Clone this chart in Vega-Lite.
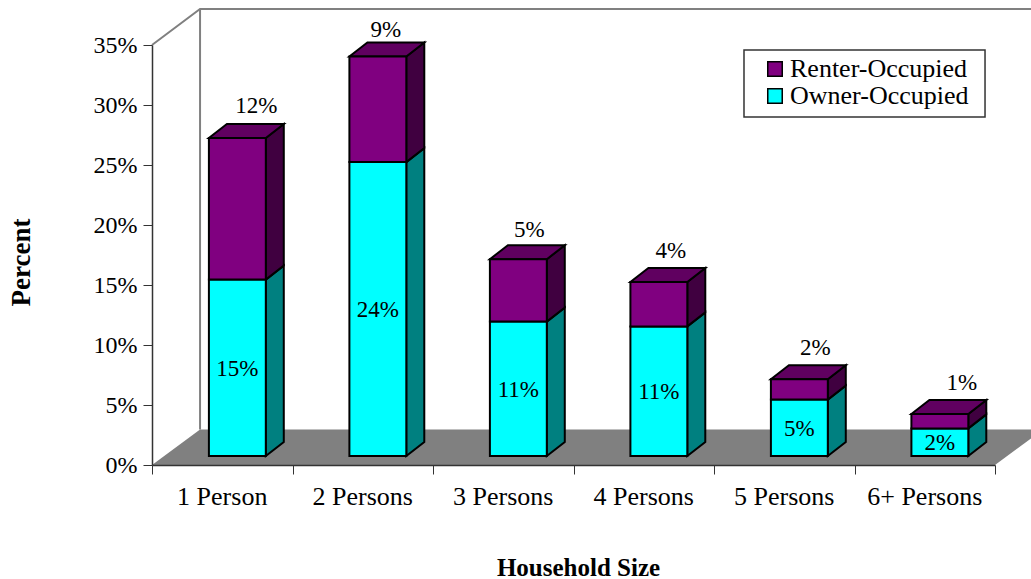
{
"$schema":"https://vega.github.io/schema/vega-lite/v6.json",
"autosize":"none",
"padding":{"left":152,"top":45,"right":36,"bottom":114},
"width":843,"height":420,
"background":"white",
"config":{"view":{"stroke":null},"font":"Liberation Serif"},
"encoding":{
 "x":{"field":"X","type":"quantitative","scale":{"domain":[0,6],"nice":false,"zero":false},
  "axis":{"values":[0,1,2,3,4,5,6],"labels":false,"grid":false,"tickSize":9,"tickColor":"#333333","domainColor":"#333333","domainWidth":1.5,"tickWidth":1,"zindex":1,
   "title":"Household Size","titleFont":"Liberation Serif","titleFontSize":25,"titleFontWeight":"bold","titleColor":"black","titleX":426,"titleY":110,"titleBaseline":"alphabetic"}},
 "y":{"field":"Y","type":"quantitative","scale":{"domain":[0,0.35],"nice":false,"zero":false},
  "axis":{"values":[0,0.05,0.1,0.15,0.2,0.25,0.3,0.35],"format":".0%","grid":false,"tickSize":9,"tickColor":"#333333","domainColor":"#333333","domainWidth":1.5,"tickWidth":1,"labelPadding":6,"labelFont":"Liberation Serif","labelFontSize":24,"labelColor":"black","zindex":1,
   "title":"Percent","titleFont":"Liberation Serif","titleFontSize":27,"titleFontWeight":"bold","titleColor":"black","titleAngle":-90,"titleX":-123,"titleY":217,"titleBaseline":"alphabetic"}}
},
"layer":[
 {"data":{"values":[{"X":0,"X2":6,"Y":0},{"X":0.342,"X2":6.342,"Y":0.0296}]},
  "mark":{"type":"area","orient":"horizontal","fill":"#808080","stroke":null},
  "encoding":{"x2":{"field":"X2"}}},
 {"data":{"values":[
   {"path":"top","ord":1,"X":0,"Y":0.35},
   {"path":"top","ord":2,"X":0.342,"Y":0.38},
   {"path":"top","ord":3,"X":6.342,"Y":0.38},
   {"path":"back","ord":1,"X":0.342,"Y":0.38},
   {"path":"back","ord":2,"X":0.342,"Y":0.0296}]},
  "mark":{"type":"line","color":"#808080","strokeWidth":2},
  "encoding":{"detail":{"field":"path"},"order":{"field":"ord"}}},
 {"data":{"values":[{"X":4.2135,"X2":5.929,"Y":0.3458,"Y2":0.29}]},
  "mark":{"type":"rect","fill":"white","stroke":"#333333","strokeWidth":1.5},
  "encoding":{"x2":{"field":"X2"},"y2":{"field":"Y2"}}},
 {"data":{"values":[
   {"category":"1 Person","series":"Owner-Occupied","value":0.147},
   {"category":"1 Person","series":"Renter-Occupied","value":0.118},
   {"category":"2 Persons","series":"Owner-Occupied","value":0.2449},
   {"category":"2 Persons","series":"Renter-Occupied","value":0.088},
   {"category":"3 Persons","series":"Owner-Occupied","value":0.112},
   {"category":"3 Persons","series":"Renter-Occupied","value":0.052},
   {"category":"4 Persons","series":"Owner-Occupied","value":0.108},
   {"category":"4 Persons","series":"Renter-Occupied","value":0.037},
   {"category":"5 Persons","series":"Owner-Occupied","value":0.047},
   {"category":"5 Persons","series":"Renter-Occupied","value":0.017},
   {"category":"6+ Persons","series":"Owner-Occupied","value":0.023},
   {"category":"6+ Persons","series":"Renter-Occupied","value":0.012}]},
  "transform":[
   {"stack":"value","groupby":["category"],"sort":[{"field":"series","order":"ascending"}],"as":["v0","v1"]},
   {"calculate":"indexof(['1 Person','2 Persons','3 Persons','4 Persons','5 Persons','6+ Persons'],datum.category)","as":"idx"},
   {"calculate":"datum.idx+0.405","as":"xl"},
   {"calculate":"datum.idx+0.81","as":"xr"},
   {"calculate":"datum.v0+0.0075","as":"y0"},
   {"calculate":"datum.v1+0.0075","as":"y1"}
  ],
  "layer":[
   {"transform":[{"filter":"datum.series==='Owner-Occupied'"},{"calculate":"[0,1]","as":"k"},{"flatten":["k"]},
     {"calculate":"datum.xr+datum.k*0.128","as":"X"},
     {"calculate":"datum.y1+datum.k*0.01167","as":"Y"},
     {"calculate":"datum.y0+datum.k*0.01167","as":"Y2"}],
    "mark":{"type":"area","orient":"vertical","stroke":"black","strokeWidth":2,"fill":"#008080"},
    "encoding":{"y2":{"field":"Y2"},"detail":{"field":"category"}}},
   {"transform":[{"filter":"datum.series==='Renter-Occupied'"},{"calculate":"[0,1]","as":"k"},{"flatten":["k"]},
     {"calculate":"datum.xr+datum.k*0.128","as":"X"},
     {"calculate":"datum.y1+datum.k*0.01167","as":"Y"},
     {"calculate":"datum.y0+datum.k*0.01167","as":"Y2"}],
    "mark":{"type":"area","orient":"vertical","stroke":"black","strokeWidth":2,"fill":"#400040"},
    "encoding":{"y2":{"field":"Y2"},"detail":{"field":"category"}}},
   {"transform":[{"filter":"datum.series==='Renter-Occupied'"},{"calculate":"[0,1]","as":"k"},{"flatten":["k"]},
     {"calculate":"datum.xl+datum.k*0.128","as":"X"},
     {"calculate":"datum.xr+datum.k*0.128","as":"X2"},
     {"calculate":"datum.y1+datum.k*0.01167","as":"Y"}],
    "mark":{"type":"area","orient":"horizontal","stroke":"black","strokeWidth":2,"fill":"#600060"},
    "encoding":{"x2":{"field":"X2"},"detail":{"field":"category"}}},
   {"transform":[{"calculate":"datum.xl","as":"X"},{"calculate":"datum.xr","as":"X2"},{"calculate":"datum.y1","as":"Y"},{"calculate":"datum.y0","as":"Y2"}],
    "mark":{"type":"rect","stroke":"black","strokeWidth":2},
    "encoding":{"x2":{"field":"X2"},"y2":{"field":"Y2"},
     "color":{"field":"series","type":"nominal","scale":{"domain":["Renter-Occupied","Owner-Occupied"],"range":["#800080","#00ffff"]},
      "legend":{"title":null,"orient":"none","legendX":592,"legendY":4,"direction":"vertical","padding":7,"labelFont":"Liberation Serif","labelFontSize":26,"labelColor":"black","symbolType":"square","symbolSize":210,"symbolStrokeColor":"black","symbolStrokeWidth":1.5,"symbolOffset":11,"labelOffset":2,"labelLimit":300,"rowPadding":1}}}},
   {"transform":[{"filter":"datum.series==='Owner-Occupied'"},
     {"calculate":"(datum.xl+datum.xr)/2","as":"X"},{"calculate":"(datum.y0+datum.y1)/2","as":"Y"}],
    "mark":{"type":"text","font":"Liberation Serif","fontSize":23,"color":"black","baseline":"middle","dy":1},
    "encoding":{"text":{"field":"value","type":"quantitative","format":".0%"}}},
   {"transform":[{"filter":"datum.series==='Renter-Occupied'"},
     {"calculate":"(datum.xl+datum.xr)/2+[19,8,11,12,16,22][datum.idx]/140.5","as":"X"},
     {"calculate":"datum.y1+0.01167+[19,14,16,18,18,18][datum.idx]/1200","as":"Y"}],
    "mark":{"type":"text","font":"Liberation Serif","fontSize":23,"color":"black","baseline":"middle","dy":1},
    "encoding":{"text":{"field":"value","type":"quantitative","format":".0%"}}},
   {"transform":[{"filter":"datum.series==='Owner-Occupied'"},
     {"calculate":"datum.idx+0.5","as":"X"},{"calculate":"0","as":"Y"}],
    "mark":{"type":"text","font":"Liberation Serif","fontSize":26,"color":"black","baseline":"middle","dy":32},
    "encoding":{"text":{"field":"category","type":"nominal"}}}
  ]}
]
}
